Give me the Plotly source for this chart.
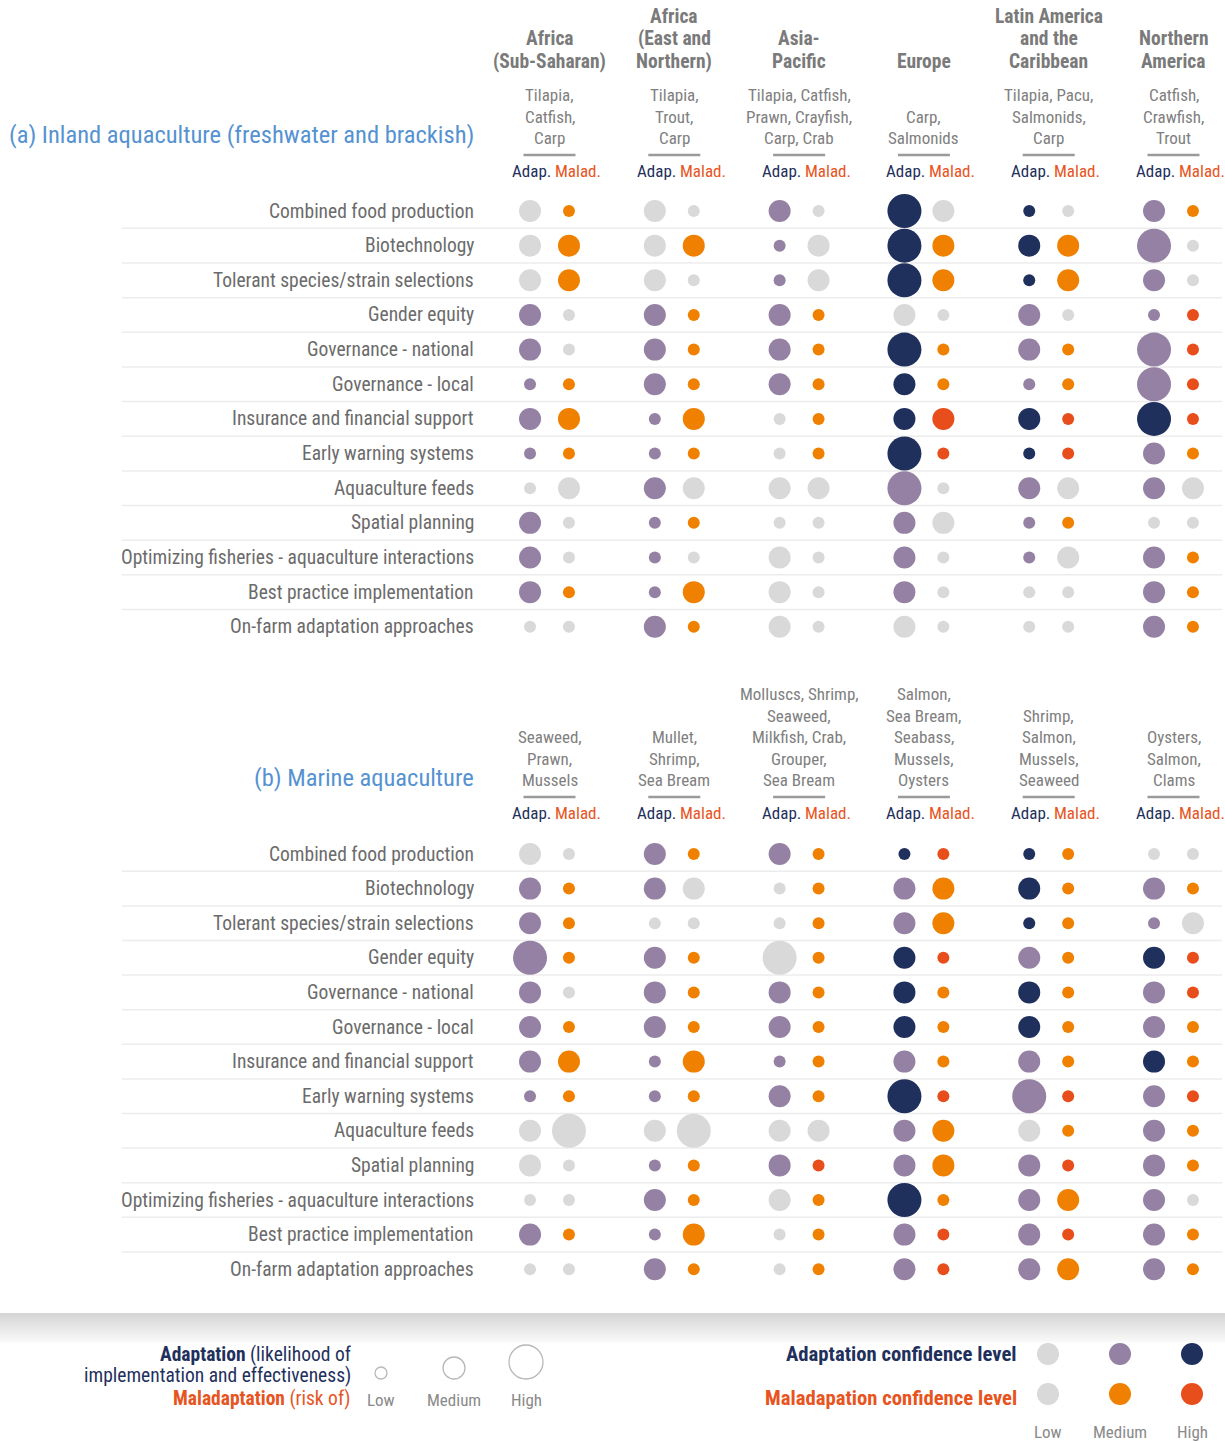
import plotly.graph_objects as go

# ---------------- data ----------------
region_titles = [["Africa", "(Sub-Saharan)"], ["Africa", "(East and", "Northern)"], ["Asia-", "Pacific"],
                 ["Europe"], ["Latin America", "and the", "Caribbean"], ["Northern", "America"]]
species_inland = [["Tilapia,", "Catfish,", "Carp"], ["Tilapia,", "Trout,", "Carp"],
                  ["Tilapia, Catfish,", "Prawn, Crayfish,", "Carp, Crab"], ["Carp,", "Salmonids"],
                  ["Tilapia, Pacu,", "Salmonids,", "Carp"], ["Catfish,", "Crawfish,", "Trout"]]
species_marine = [["Seaweed,", "Prawn,", "Mussels"], ["Mullet,", "Shrimp,", "Sea Bream"],
                  ["Molluscs, Shrimp,", "Seaweed,", "Milkfish, Crab,", "Grouper,", "Sea Bream"],
                  ["Salmon,", "Sea Bream,", "Seabass,", "Mussels,", "Oysters"],
                  ["Shrimp,", "Salmon,", "Mussels,", "Seaweed"], ["Oysters,", "Salmon,", "Clams"]]
options = ["Combined food production", "Biotechnology", "Tolerant species/strain selections",
           "Gender equity", "Governance - national", "Governance - local",
           "Insurance and financial support", "Early warning systems", "Aquaculture feeds",
           "Spatial planning", "Optimizing fisheries - aquaculture interactions",
           "Best practice implementation", "On-farm adaptation approaches"]

# code: size (S=low, M=medium, H=high) + confidence (l=low, m=medium, h=high)
inland_adap = [
    ["Ml", "Ml", "Mm", "Hh", "Sh", "Mm"],
    ["Ml", "Ml", "Sm", "Hh", "Mh", "Hm"],
    ["Ml", "Ml", "Sm", "Hh", "Sh", "Mm"],
    ["Mm", "Mm", "Mm", "Ml", "Mm", "Sm"],
    ["Mm", "Mm", "Mm", "Hh", "Mm", "Hm"],
    ["Sm", "Mm", "Mm", "Mh", "Sm", "Hm"],
    ["Mm", "Sm", "Sl", "Mh", "Mh", "Hh"],
    ["Sm", "Sm", "Sl", "Hh", "Sh", "Mm"],
    ["Sl", "Mm", "Ml", "Hm", "Mm", "Mm"],
    ["Mm", "Sm", "Sl", "Mm", "Sm", "Sl"],
    ["Mm", "Sm", "Ml", "Mm", "Sm", "Mm"],
    ["Mm", "Sm", "Ml", "Mm", "Sl", "Mm"],
    ["Sl", "Mm", "Ml", "Ml", "Sl", "Mm"],
]
inland_malad = [
    ["Sm", "Sl", "Sl", "Ml", "Sl", "Sm"],
    ["Mm", "Mm", "Ml", "Mm", "Mm", "Sl"],
    ["Mm", "Sl", "Ml", "Mm", "Mm", "Sl"],
    ["Sl", "Sm", "Sm", "Sl", "Sl", "Sh"],
    ["Sl", "Sm", "Sm", "Sm", "Sm", "Sh"],
    ["Sm", "Sm", "Sm", "Sm", "Sm", "Sh"],
    ["Mm", "Mm", "Sm", "Mh", "Sh", "Sh"],
    ["Sm", "Sm", "Sm", "Sh", "Sh", "Sm"],
    ["Ml", "Ml", "Ml", "Sl", "Ml", "Ml"],
    ["Sl", "Sm", "Sl", "Ml", "Sm", "Sl"],
    ["Sl", "Sl", "Sl", "Sl", "Ml", "Sm"],
    ["Sm", "Mm", "Sl", "Sl", "Sl", "Sm"],
    ["Sl", "Sm", "Sl", "Sl", "Sl", "Sm"],
]
marine_adap = [
    ["Ml", "Mm", "Mm", "Sh", "Sh", "Sl"],
    ["Mm", "Mm", "Sl", "Mm", "Mh", "Mm"],
    ["Mm", "Sl", "Sl", "Mm", "Sh", "Sm"],
    ["Hm", "Mm", "Hl", "Mh", "Mm", "Mh"],
    ["Mm", "Mm", "Mm", "Mh", "Mh", "Mm"],
    ["Mm", "Mm", "Mm", "Mh", "Mh", "Mm"],
    ["Mm", "Sm", "Sm", "Mm", "Mm", "Mh"],
    ["Sm", "Sm", "Mm", "Hh", "Hm", "Mm"],
    ["Ml", "Ml", "Ml", "Mm", "Ml", "Mm"],
    ["Ml", "Sm", "Mm", "Mm", "Mm", "Mm"],
    ["Sl", "Mm", "Ml", "Hh", "Mm", "Mm"],
    ["Mm", "Sm", "Sl", "Mm", "Mm", "Mm"],
    ["Sl", "Mm", "Sl", "Mm", "Mm", "Mm"],
]
marine_malad = [
    ["Sl", "Sm", "Sm", "Sh", "Sm", "Sl"],
    ["Sm", "Ml", "Sm", "Mm", "Sm", "Sm"],
    ["Sm", "Sl", "Sm", "Mm", "Sm", "Ml"],
    ["Sm", "Sm", "Sm", "Sh", "Sm", "Sh"],
    ["Sl", "Sm", "Sm", "Sm", "Sm", "Sh"],
    ["Sm", "Sm", "Sm", "Sm", "Sm", "Sm"],
    ["Mm", "Mm", "Sm", "Sm", "Sm", "Sm"],
    ["Sm", "Sm", "Sm", "Sh", "Sh", "Sh"],
    ["Hl", "Hl", "Ml", "Mm", "Sm", "Sm"],
    ["Sl", "Sm", "Sh", "Mm", "Sh", "Sm"],
    ["Sl", "Sm", "Sm", "Sm", "Mm", "Sl"],
    ["Sm", "Mm", "Sm", "Sh", "Sh", "Sm"],
    ["Sl", "Sm", "Sm", "Sh", "Mm", "Sm"],
]

# ---------------- styles ----------------
FONT = "Roboto Condensed, Liberation Sans Narrow, Arial Narrow, DejaVu Sans Condensed, sans-serif"
SIZE_PX = {"S": 12, "M": 22, "H": 34}
ADAP_COL = {"l": "#d9d9d9", "m": "#9581a3", "h": "#1f305c"}
MALAD_COL = {"l": "#d9d9d9", "m": "#f08000", "h": "#e84e1b"}
NAVY = "#1f305c"
RED = "#e8541e"
GREY_TXT = "#6b6b6b"
TITLE_GREY = "#7a7a7a"
BLUE = "#5592d2"
OFFSET = 0.156

fig = go.Figure()


def add_panel(adap, malad, yaxis):
    for grid, sign, cols in ((adap, -1, ADAP_COL), (malad, 1, MALAD_COL)):
        xs, ys, sz, cl = [], [], [], []
        for r, row in enumerate(grid):
            for i, code in enumerate(row):
                xs.append(i + sign * OFFSET)
                ys.append(r)
                sz.append(SIZE_PX[code[0]])
                cl.append(cols[code[1]])
        fig.add_trace(go.Scatter(x=xs, y=ys, mode="markers", xaxis="x", yaxis=yaxis,
                                 marker=dict(size=sz, color=cl, line=dict(width=0), opacity=1),
                                 hoverinfo="skip", showlegend=False))


add_panel(inland_adap, inland_malad, "y")
add_panel(marine_adap, marine_malad, "y2")

ann = []
shapes = []


def txt(x, y, s, size, color, xanchor="center", yref="y3", xref="x2", bold=False):
    ann.append(dict(x=x, y=y, xref=xref, yref=yref, text=("<b>%s</b>" % s) if bold else s,
                    showarrow=False, xanchor=xanchor, yanchor="middle",
                    font=dict(family=FONT, size=size, color=color)))


# row labels & separators
for yref in ("y", "y2"):
    for k, lab in enumerate(options):
        txt(476, k, lab, 19.5, GREY_TXT, xanchor="right", yref=yref)
        if k < len(options) - 1:
            shapes.append(dict(type="line", xref="x2", yref=yref, x0=122, x1=1222, y0=k + 0.5, y1=k + 0.5,
                               line=dict(color="#ececec", width=1.5), layer="below"))

# header positions (pixel layout)
centers = [549.5 + 124.8 * i for i in range(6)]
LINE = 21.5
TLINE = 22.4
for i, c in enumerate(centers):
    t = region_titles[i]
    for j, line in enumerate(reversed(t)):
        txt(c, 61 - TLINE * j, line, 19.5, TITLE_GREY, bold=True)
    for base, sp in ((0, species_inland[i]), (642, species_marine[i])):
        for j, line in enumerate(reversed(sp)):
            txt(c, base + 138 - LINE * j, line, 17, "#808080")
        shapes.append(dict(type="line", xref="x2", yref="y3", x0=c - 26, x1=c + 26,
                           y0=base + 155, y1=base + 155, line=dict(color="#9a9a9a", width=2.5)))
        txt(c + 3.5, base + 171, "Adap.", 17, NAVY, xanchor="right")
        txt(c + 3.5, base + 171, "Malad.", 17, RED, xanchor="left")

txt(476, 134, "(a) Inland aquaculture (freshwater and brackish)", 24.5, BLUE, xanchor="right")
txt(476, 777, "(b) Marine aquaculture", 24.5, BLUE, xanchor="right")

# legend background gradient
n = 15
for s in range(n):
    g = int(214 + (250 - 214) * s / (n - 1))
    shapes.append(dict(type="rect", xref="x2", yref="y3", x0=0, x1=1225, y0=1313 + 2 * s, y1=1315 + 2 * s,
                       fillcolor="rgb(%d,%d,%d)" % (g, g, g), line=dict(width=0), layer="below"))

txt(353, 1354, "<b>Adaptation</b> (likelihood of", 19.5, NAVY, xanchor="right")
txt(353, 1375, "implementation and effectiveness)", 19.5, NAVY, xanchor="right")
txt(353, 1398, "<b>Maladaptation</b> (risk of)", 19.5, RED, xanchor="right")
size_keys = ["Low", "Medium", "High"]
leg_x = [381, 454, 526]
leg_y = [1373, 1368, 1362]
fig.add_trace(go.Scatter(x=leg_x, y=leg_y, xaxis="x2", yaxis="y3", mode="markers",
                         marker=dict(symbol="circle-open", size=[SIZE_PX[k] for k in "SMH"],
                                     color="#9a9a9a", line=dict(width=1.3)),
                         hoverinfo="skip", showlegend=False))
for x, k in zip(leg_x, size_keys):
    txt(x, 1400, k, 17, "#8a8a8a")

txt(1019, 1354, "Adaptation confidence level", 20.7, NAVY, xanchor="right", bold=True)
txt(1019, 1398, "Maladapation confidence level", 20.7, RED, xanchor="right", bold=True)
conf_x = [1048, 1120, 1192]
fig.add_trace(go.Scatter(x=conf_x, y=[1354] * 3, xaxis="x2", yaxis="y3", mode="markers",
                         marker=dict(size=22, color=[ADAP_COL[c] for c in "lmh"], line=dict(width=0)),
                         hoverinfo="skip", showlegend=False))
fig.add_trace(go.Scatter(x=conf_x, y=[1394] * 3, xaxis="x2", yaxis="y3", mode="markers",
                         marker=dict(size=22, color=[MALAD_COL[c] for c in "lmh"], line=dict(width=0)),
                         hoverinfo="skip", showlegend=False))
for x, k in zip(conf_x, size_keys):
    txt(x, 1432, k, 17, "#8a8a8a")

W, H = 1225, 1442
ax_hidden = dict(visible=False, showgrid=False, zeroline=False, fixedrange=True)
fig.update_layout(
    width=W, height=H, margin=dict(l=0, r=0, t=0, b=0),
    paper_bgcolor="white", plot_bgcolor="rgba(0,0,0,0)",
    xaxis=dict(range=[-549.5 / 124.8, (W - 549.5) / 124.8], domain=[0, 1], **ax_hidden),
    yaxis=dict(range=[(H - 211) / 34.65, -211 / 34.65], domain=[0, 1], **ax_hidden),
    yaxis2=dict(range=[(H - 854) / 34.6, -854 / 34.6], overlaying="y", **ax_hidden),
    xaxis2=dict(range=[0, W], overlaying="x", **ax_hidden),
    yaxis3=dict(range=[H, 0], overlaying="y", **ax_hidden),
    annotations=ann, shapes=shapes, showlegend=False,
)
fig.write_html("out.html", config={"displayModeBar": False},
               post_script="document.body.style.margin='0px';document.body.style.overflow='hidden';")
